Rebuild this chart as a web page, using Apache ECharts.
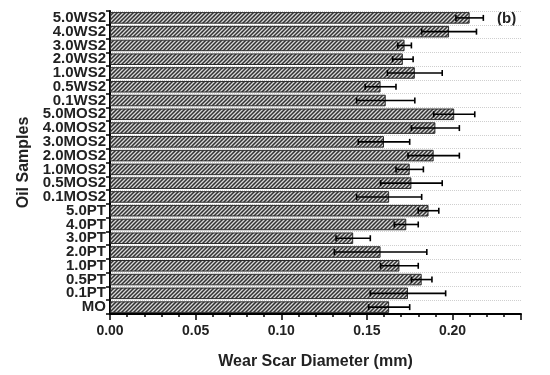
<!DOCTYPE html>
<html>
<head>
<meta charset="utf-8">
<script src="https://cdn.jsdelivr.net/npm/echarts@6/dist/echarts.min.js"></script>
<style>html,body{margin:0;padding:0;background:#fff}#c{width:550px;height:375px}</style>
</head>
<body>
<div id="c"></div>
<script>
const categories = ['MO','0.1PT','0.5PT','1.0PT','2.0PT','3.0PT','4.0PT','5.0PT','0.1MOS2','0.5MOS2','1.0MOS2','2.0MOS2','3.0MOS2','4.0MOS2','5.0MOS2','0.1WS2','0.5WS2','1.0WS2','2.0WS2','3.0WS2','4.0WS2','5.0WS2'];
const wearScar = [0.163,0.174,0.182,0.169,0.158,0.142,0.173,0.186,0.163,0.176,0.175,0.189,0.160,0.190,0.201,0.161,0.158,0.178,0.171,0.172,0.198,0.210];
const errors = [0.012,0.022,0.006,0.011,0.027,0.010,0.007,0.006,0.019,0.018,0.008,0.015,0.015,0.014,0.012,0.017,0.009,0.016,0.006,0.004,0.016,0.008];
const xTicks = [0.00,0.05,0.10,0.15,0.20];

function makePattern(){
  const c = document.createElement('canvas');
  c.width = 4; c.height = 4;
  const g = c.getContext('2d');
  g.fillStyle = '#333333';
  g.fillRect(0,0,4,4);
  g.strokeStyle = '#d8d8d8';
  g.lineWidth = 1.3;
  g.beginPath();
  g.moveTo(-1,5); g.lineTo(5,-1);
  g.moveTo(-1,1); g.lineTo(1,-1);
  g.moveTo(3,5); g.lineTo(5,3);
  g.stroke();
  return c;
}
const pattern = makePattern();

const chart = echarts.init(document.getElementById('c'));
const font = '"Liberation Sans", Arial, sans-serif';
chart.setOption({
  animation: false,
  grid: {left: 110, right: 29, top: 11, bottom: 61},
  xAxis: [{
    type: 'value', min: 0, max: 0.24, interval: 0.01, position: 'bottom',
    axisLine: {show: true, lineStyle: {color: '#000', width: 2}},
    axisTick: {show: true, length: 3, lineStyle: {color: '#000', width: 1.5}},
    axisLabel: {
      fontFamily: font, fontWeight: 'bold', fontSize: 14, color: '#222', margin: 10,
      showMaxLabel: false,
      formatter: function(v){
        const k = Math.round(v*100);
        for (const t of xTicks) { if (Math.round(t*100) === k) return t.toFixed(2); }
        return '';
      }
    },
    splitLine: {show: false},
    name: 'Wear Scar Diameter (mm)', nameLocation: 'middle', nameGap: 40,
    nameTextStyle: {fontFamily: font, fontWeight: 'bold', fontSize: 16, color: '#222'}
  },{
    type: 'value', min: 0, max: 0.24, interval: 0.05, position: 'bottom', offset: 0,
    axisLine: {show: false},
    axisTick: {show: true, length: 6, lineStyle: {color: '#000', width: 1.5}},
    axisLabel: {show: false},
    splitLine: {show: false}
  }],
  yAxis: {
    type: 'category', data: categories,
    axisLine: {show: true, lineStyle: {color: '#000', width: 2}},
    axisTick: {show: true, length: 4, lineStyle: {color: '#000', width: 1.5}},
    axisLabel: {interval: 0, fontFamily: font, fontWeight: 'bold', fontSize: 15, color: '#222', margin: 4, lineHeight: 13},
    splitLine: {show: true, lineStyle: {color: '#cfcfcf', type: 'dotted', width: 1}},
    name: 'Oil Samples', nameLocation: 'middle', nameGap: 78,
    nameTextStyle: {fontFamily: font, fontWeight: 'bold', fontSize: 16, color: '#222'}
  },
  graphic: [{
    type: 'text', left: 497, top: 11,
    style: {text: '(b)', font: 'bold 15px "Liberation Sans", Arial, sans-serif', fill: '#222'}
  }],
  series: [{
    type: 'bar', data: wearScar, xAxisIndex: 0,
    barCategoryGap: '16%',
    itemStyle: {color: {image: pattern, repeat: 'repeat'}, borderColor: '#2a2a2a', borderWidth: 1}
  },{
    type: 'custom', xAxisIndex: 0, z: 5,
    data: wearScar.map((v,i)=>[i, v, errors[i]]),
    renderItem: function(params, api){
      const i = api.value(0), v = api.value(1), e = api.value(2);
      const p1 = api.coord([v - e, i]);
      const p2 = api.coord([v + e, i]);
      const h = 3;
      const st = {stroke: '#000', lineWidth: 1.6};
      return {type: 'group', children: [
        {type: 'line', shape: {x1: p1[0], y1: p1[1], x2: p2[0], y2: p2[1]}, style: st},
        {type: 'line', shape: {x1: p1[0], y1: p1[1]-h, x2: p1[0], y2: p1[1]+h}, style: st},
        {type: 'line', shape: {x1: p2[0], y1: p2[1]-h, x2: p2[0], y2: p2[1]+h}, style: st}
      ]};
    }
  }]
});
</script>
</body>
</html>
